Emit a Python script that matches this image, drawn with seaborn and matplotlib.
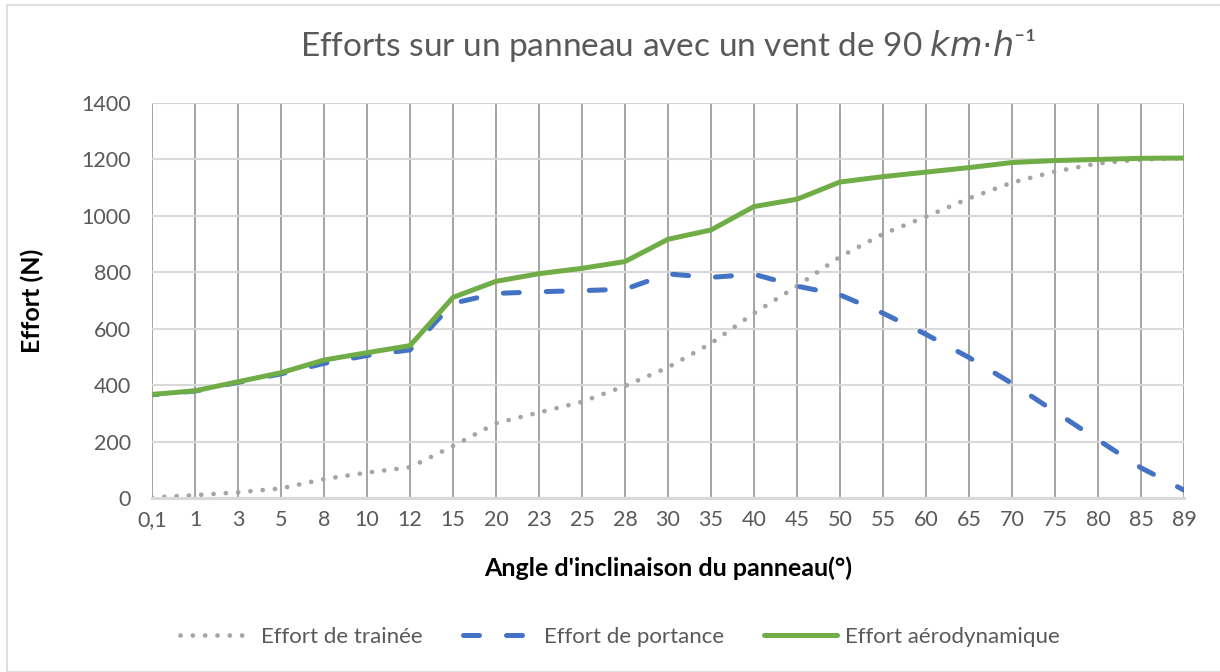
import pandas as pd
import matplotlib.pyplot as plt
import seaborn as sns
from matplotlib.lines import Line2D
from matplotlib.patches import Rectangle

# angles (categories) and the three force series
angles = ["0,1", "1", "3", "5", "8", "10", "12", "15", "20", "23", "25", "28", "30",
          "35", "40", "45", "50", "55", "60", "65", "70", "75", "80", "85", "89"]
trainee = [2, 10, 20, 34, 67, 90, 109, 184, 265, 303, 341, 397, 463,
           548, 655, 751, 855, 936, 997, 1062, 1118, 1157, 1186, 1200, 1204]
portance = [366, 379, 410, 440, 477, 505, 525, 690, 725, 731, 735, 740, 794,
            782, 793, 751, 720, 655, 580, 498, 406, 306, 206, 107, 28]
aero = [367, 380, 412, 444, 489, 515, 540, 711, 768, 795, 814, 838, 917,
        950, 1033, 1059, 1120, 1139, 1155, 1171, 1189, 1196, 1200, 1204, 1205]
yticks = [0, 200, 400, 600, 800, 1000, 1200, 1400]

names = ["Effort de trainée", "Effort de portance", "Effort aérodynamique"]
colors = ["#A5A5A5", "#4472C4", "#70AD47"]

df = pd.DataFrame({"angle": pd.Categorical(angles, categories=angles, ordered=True),
                   names[0]: trainee, names[1]: portance, names[2]: aero})
df["pos"] = df["angle"].cat.codes

sns.set_style("white")
plt.rcParams["font.family"] = ["Lato", "DejaVu Sans"]
txt = "#595959"

fig = plt.figure(figsize=(12.2, 6.72), dpi=100)
ax = fig.add_axes([152 / 1220, 1 - 498 / 672, (1184 - 152) / 1220, (498 - 103) / 672])

# chart border
fig.patches.append(Rectangle((7 / 1220, 0), 1.0, 1 - 5 / 672, transform=fig.transFigure,
                             fill=False, edgecolor="#D9D9D9", linewidth=1.2))

lw = 3.6
dot = [0.01, 2.6]
dash = [3.2, 5.4]
sns.lineplot(data=df, x="pos", y=names[0], ax=ax, color=colors[0], linewidth=3.4,
             sort=False)
ax.lines[-1].set_dashes(dot)
ax.lines[-1].set_dash_capstyle("round")
sns.lineplot(data=df, x="pos", y=names[1], ax=ax, color=colors[1], linewidth=lw,
             sort=False)
ax.lines[-1].set_linestyle((2.0, dash))
ax.lines[-1].set_dash_capstyle("round")
sns.lineplot(data=df, x="pos", y=names[2], ax=ax, color=colors[2], linewidth=lw,
             sort=False)
ax.lines[-1].set_solid_capstyle("round")

ax.set_xlim(0, len(angles) - 1)
ax.set_ylim(0, 1400)
ax.set_xticks(range(len(angles)))
ax.set_xticklabels(angles)
ax.set_yticks(yticks)
ax.tick_params(axis="both", length=0, labelsize=15.5, colors=txt)
ax.tick_params(axis="x", pad=9)
ax.tick_params(axis="y", pad=15)

ax.grid(axis="y", color="#D9D9D9", linewidth=1.5)
ax.grid(axis="x", color="#8C8C8C", linewidth=1.1)
ax.set_axisbelow(True)
for s in ["top", "right", "left"]:
    ax.spines[s].set_visible(False)
ax.spines["bottom"].set_color("#D9D9D9")
ax.spines["bottom"].set_linewidth(2.2)

ax.set_xlabel("Angle d'inclinaison du panneau(°)", fontsize=18, fontweight="bold",
              color="black")
ax.set_ylabel("Effort (N)", fontsize=18, fontweight="bold", color="black")
ax.xaxis.set_label_coords(0.5, (498 - 556) / 395)
ax.yaxis.set_label_coords((44 - 152) / 1032, 0.5)

fig.text(668 / 1220, 1 - 45 / 672, "Efforts sur un panneau avec un vent de 90 $km{\\cdot}h$⁻¹",
         ha="center", va="center", fontsize=24, color=txt)

handles = [Line2D([], [], color=colors[0], linewidth=3.4, dashes=dot, dash_capstyle="round"),
           Line2D([], [], color=colors[1], linewidth=lw, dashes=dash, dash_capstyle="round"),
           Line2D([], [], color=colors[2], linewidth=lw)]
fig.legend(handles, names, loc="center", bbox_to_anchor=(620 / 1220, 1 - 637 / 672),
           ncol=3, frameon=False, fontsize=16, handlelength=3.3, columnspacing=1.8,
           handletextpad=0.35, labelcolor=txt)

fig.savefig("out.png", dpi=100)
